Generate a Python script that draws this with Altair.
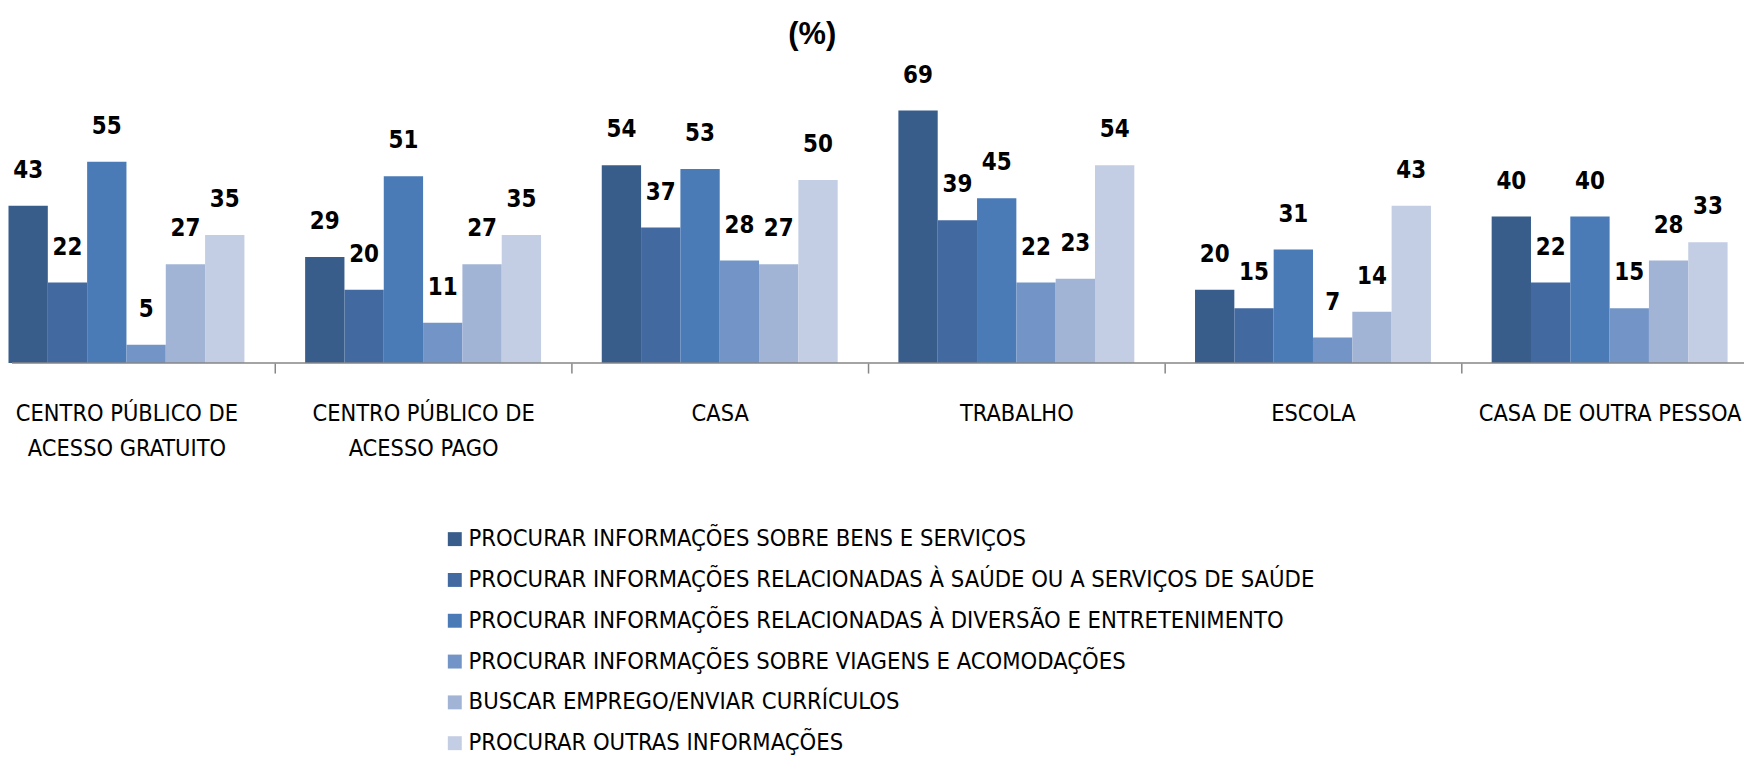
import altair as alt
import pandas as pd

categories = [
    "CENTRO PÚBLICO DE\nACESSO GRATUITO",
    "CENTRO PÚBLICO DE\nACESSO PAGO",
    "CASA",
    "TRABALHO",
    "ESCOLA",
    "CASA DE OUTRA PESSOA",
]
series = [
    "PROCURAR INFORMAÇÕES SOBRE BENS E SERVIÇOS",
    "PROCURAR INFORMAÇÕES RELACIONADAS À SAÚDE OU A SERVIÇOS DE SAÚDE",
    "PROCURAR INFORMAÇÕES RELACIONADAS À DIVERSÃO E ENTRETENIMENTO",
    "PROCURAR INFORMAÇÕES SOBRE VIAGENS E ACOMODAÇÕES",
    "BUSCAR EMPREGO/ENVIAR CURRÍCULOS",
    "PROCURAR OUTRAS INFORMAÇÕES",
]
bens_servicos = [43, 29, 54, 69, 20, 40]
saude = [22, 20, 37, 39, 15, 22]
diversao = [55, 51, 53, 45, 31, 40]
viagens = [5, 11, 28, 22, 7, 15]
emprego = [27, 27, 27, 23, 14, 28]
outras = [35, 35, 50, 54, 43, 33]
colors = ["#385D8A", "#426AA0", "#4A7BB7", "#7394C6", "#A2B4D6", "#C3CDE3"]

all_values = [bens_servicos, saude, diversao, viagens, emprego, outras]
rows = []
for s, vals in zip(series, all_values):
    for c, v in zip(categories, vals):
        rows.append({"categoria": c, "serie": s, "valor": v})
df = pd.DataFrame(rows)

FONT = "Liberation Sans Narrow, DejaVu Sans Condensed, Liberation Sans, sans-serif"

x_enc = alt.X(
    "categoria:N",
    sort=categories,
    scale=alt.Scale(range=[-30, 1758], paddingInner=0, paddingOuter=0),
    axis=alt.Axis(
        title=None,
        domain=False,
        ticks=True,
        tickBand="extent",
        tickSize=10,
        tickColor="#868686",
        tickWidth=1.5,
        labelAngle=0,
        labelFont=FONT,
        labelFontSize=23.5,
        labelColor="#000000",
        labelPadding=29,
        labelLineHeight=35,
        labelBaseline="top",
        labelLimit=600,
        labelOverlap=False,
        labelExpr="datum.value ? split(datum.value, '\\n') : ''",
        grid=False,
    ),
)
xoff_enc = alt.XOffset(
    "serie:N", sort=series, scale=alt.Scale(paddingInner=0, paddingOuter=0.772)
)
y_enc = alt.Y(
    "valor:Q",
    scale=alt.Scale(domain=[0, 96.5], nice=False),
    axis=None,
)
color_enc = alt.Color(
    "serie:N",
    sort=series,
    scale=alt.Scale(domain=series, range=colors),
    legend=alt.Legend(
        title=None,
        orient="none",
        legendX=437,
        legendY=520,
        padding=0,
        symbolType="square",
        symbolSize=196,
        symbolStrokeWidth=0,
        symbolOpacity=1,
        labelFont=FONT,
        labelFontSize=23.7,
        labelColor="#000000",
        labelLimit=1500,
        labelOffset=2,
        rowPadding=16,
    ),
)

base = alt.Chart(df)
bars = base.mark_bar(opacity=1).encode(
    x=x_enc, xOffset=xoff_enc, y=y_enc, color=color_enc
)
labels = base.mark_text(
    font=FONT, fontSize=24, fontWeight="bold", color="#000000",
    baseline="middle", dy=-35,
).encode(
    x=alt.X("categoria:N", sort=categories),
    xOffset=alt.XOffset("serie:N", sort=series),
    y="valor:Q",
    text="valor:Q",
)
axis_line = alt.Chart(pd.DataFrame({"zero": [0]})).mark_rule(
    color="#868686", strokeWidth=1.5
).encode(x=alt.value(4), x2=alt.value(1744), y=alt.Y("zero:Q"))

title = alt.Chart(pd.DataFrame({"t": ["(%)"]})).mark_text(
    font="Liberation Sans, sans-serif", fontSize=31, fontWeight="bold",
    color="#000000", baseline="middle", align="center",
).encode(text="t:N", x=alt.value(808), y=alt.value(25))

chart = alt.layer(bars, labels, axis_line, title).properties(
    width=1744,
    height=355,
    autosize=alt.AutoSizeParams(type="none"),
    padding={"left": 0, "top": 0, "right": 0, "bottom": 394},
).configure_view(stroke=None)

chart.save("out.html", embed_options={"renderer": "svg", "actions": False})
